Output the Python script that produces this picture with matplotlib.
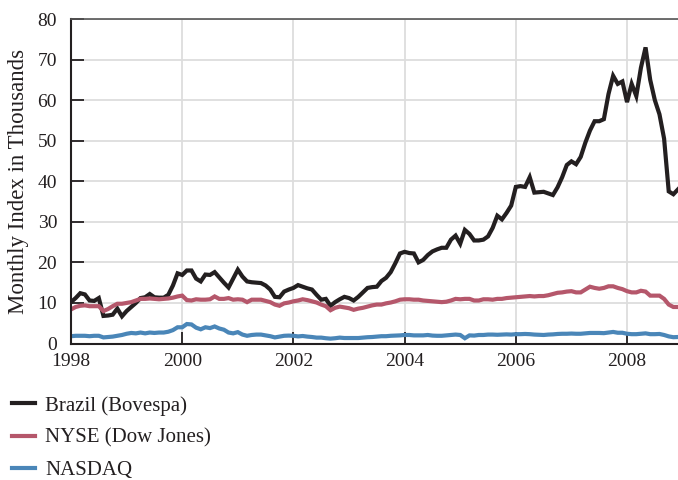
import matplotlib
matplotlib.use("Agg")
import matplotlib.pyplot as plt
import numpy as np

start_year = 1998
brazil = [10.2, 11.2, 12.4, 12.1, 10.6, 10.5, 11.2, 6.8, 6.9, 7.1, 8.6, 6.7,
          8.0, 9.0, 10.0, 11.2, 11.4, 12.2, 11.4, 11.3, 11.3, 12.0, 14.3, 17.3,
          16.9, 18.0, 18.0, 16.0, 15.3, 17.0, 16.9, 17.6, 16.3, 15.0, 13.8, 16.0,
          18.2, 16.5, 15.3, 15.1, 15.0, 14.9, 14.3, 13.3, 11.5, 11.4, 12.8, 13.3,
          13.7, 14.4, 14.0, 13.6, 13.3, 12.0, 10.8, 11.0, 9.3, 10.2, 10.9, 11.5,
          11.2, 10.6, 11.5, 12.6, 13.7, 13.9, 14.0, 15.4, 16.2, 17.6, 19.8, 22.2,
          22.6, 22.3, 22.2, 20.0, 20.6, 21.8, 22.7, 23.2, 23.6, 23.6, 25.6, 26.6,
          24.6, 28.0, 27.0, 25.4, 25.4, 25.6, 26.4, 28.5, 31.5, 30.6, 32.2, 34.0,
          38.6, 38.8, 38.6, 41.0, 37.2, 37.3, 37.4, 37.0, 36.6, 38.5, 41.0, 44.0,
          44.9, 44.2, 46.0, 49.5, 52.5, 54.8, 54.8, 55.3, 61.5, 66.0, 64.0, 64.6,
          59.5, 64.0, 61.0, 68.0, 73.0, 65.0, 60.0, 56.5, 50.5, 37.5, 36.8, 38.0]
nyse = [8.4, 9.0, 9.3, 9.4, 9.2, 9.2, 9.2, 8.0, 8.5, 9.2, 9.8, 9.8,
        10.0, 10.2, 10.6, 11.0, 11.0, 11.1, 11.0, 10.9, 11.0, 11.1, 11.3, 11.6,
        11.8, 10.7, 10.6, 10.9, 10.8, 10.8, 10.9, 11.6, 11.0, 11.0, 11.2, 10.8,
        10.9, 10.8, 10.2, 10.8, 10.8, 10.8, 10.5, 10.2, 9.6, 9.3, 9.9, 10.1,
        10.4, 10.6, 10.9, 10.7, 10.4, 10.1, 9.6, 9.2, 8.2, 8.8, 9.1, 8.9,
        8.7, 8.3, 8.6, 8.8, 9.1, 9.4, 9.6, 9.6, 9.9, 10.1, 10.4, 10.8,
        10.9, 10.9, 10.8, 10.8, 10.6, 10.5, 10.4, 10.3, 10.2, 10.3, 10.6, 11.0,
        10.9, 11.0, 11.0, 10.6, 10.6, 10.9, 10.9, 10.8, 11.0, 11.0, 11.2, 11.3,
        11.4, 11.5, 11.6, 11.7, 11.6, 11.7, 11.7, 11.9, 12.2, 12.5, 12.6, 12.8,
        12.9, 12.6, 12.6, 13.3, 14.0, 13.7, 13.5, 13.7, 14.1, 14.1, 13.7, 13.4,
        12.9, 12.6, 12.6, 13.0, 12.8, 11.8, 11.8, 11.8, 11.0, 9.6, 9.0, 9.0]
nasdaq = [1.8, 1.9, 1.9, 1.9, 1.8, 1.9, 1.9, 1.5, 1.6, 1.7, 1.9, 2.1,
          2.4, 2.6, 2.5, 2.7, 2.5, 2.7, 2.6, 2.7, 2.7, 2.9, 3.3, 4.0,
          4.0, 4.8, 4.7, 3.9, 3.5, 4.0, 3.8, 4.2, 3.7, 3.4, 2.7, 2.5,
          2.8, 2.2, 1.9, 2.1, 2.2, 2.2, 2.0, 1.8, 1.5, 1.7, 1.9, 1.95,
          1.9, 1.75, 1.85, 1.7, 1.6, 1.45, 1.45, 1.3, 1.2, 1.3, 1.45, 1.35,
          1.35, 1.35, 1.35, 1.45, 1.55, 1.6, 1.7, 1.8, 1.8, 1.9, 1.95, 2.0,
          2.1, 2.1, 2.0, 2.0, 2.0, 2.1, 1.95, 1.9, 1.9, 2.0, 2.1, 2.2,
          2.1, 1.3, 2.0, 1.95, 2.1, 2.1, 2.2, 2.2, 2.15, 2.2, 2.25, 2.2,
          2.3, 2.3, 2.35, 2.3, 2.2, 2.15, 2.1, 2.2, 2.25, 2.35, 2.4, 2.4,
          2.45, 2.4, 2.4, 2.5, 2.6, 2.6, 2.6, 2.55, 2.7, 2.85, 2.65, 2.65,
          2.4, 2.3, 2.3, 2.4, 2.5, 2.3, 2.3, 2.35, 2.1, 1.75, 1.55, 1.6]
series_names = ["Brazil (Bovespa)", "NYSE (Dow Jones)", "NASDAQ"]
series_colors = ["#231f20", "#b5576b", "#4a86b8"]
x_ticks = [1998, 2000, 2002, 2004, 2006, 2008]
y_ticks = [0, 10, 20, 30, 40, 50, 60, 70, 80]
y_label = "Monthly Index in Thousands"

plt.rcParams['font.family'] = ['Liberation Serif', 'DejaVu Serif']

dates = start_year + np.arange(len(brazil)) / 12.0

fig = plt.figure(figsize=(6.78, 4.80), dpi=100)
ax = fig.add_axes([71/678, 1 - 343.5/480, 1 - 71/678, (343.5 - 19)/480])

for vals, name, col in zip([brazil, nyse, nasdaq], series_names, series_colors):
    ax.plot(dates, vals, color=col, lw=3.0, label=name, solid_joinstyle='miter')

ax.set_xlim(dates[0], dates[-1])
ax.set_ylim(0, 80)
ax.set_xticks(x_ticks)
ax.set_yticks(y_ticks)
ax.grid(True, color="#dddddd", lw=1.3)
ax.set_axisbelow(True)
ax.tick_params(direction='in', length=9, width=1.3, color='#231f20', labelsize=14,
               labelcolor='#231f20')
ax.tick_params(axis='y', pad=10)
ax.tick_params(axis='x', pad=6.5)
for s in ['left', 'bottom']:
    ax.spines[s].set_linewidth(1.5)
    ax.spines[s].set_color('#231f20')
ax.spines['top'].set_linewidth(1.2)
ax.spines['top'].set_color('#555555')
ax.spines['right'].set_visible(False)
ax.set_ylabel(y_label, fontsize=16.5, color='#231f20', labelpad=6)

handles, labels = ax.get_legend_handles_labels()
fig.legend(handles, labels, loc='upper left', bbox_to_anchor=(12/678, 1 - 396/480),
           frameon=False, fontsize=15, handlelength=1.1, handletextpad=0.5,
           labelspacing=0.6, borderpad=0, borderaxespad=0, labelcolor='#231f20')

fig.savefig("out.png", dpi=100)
